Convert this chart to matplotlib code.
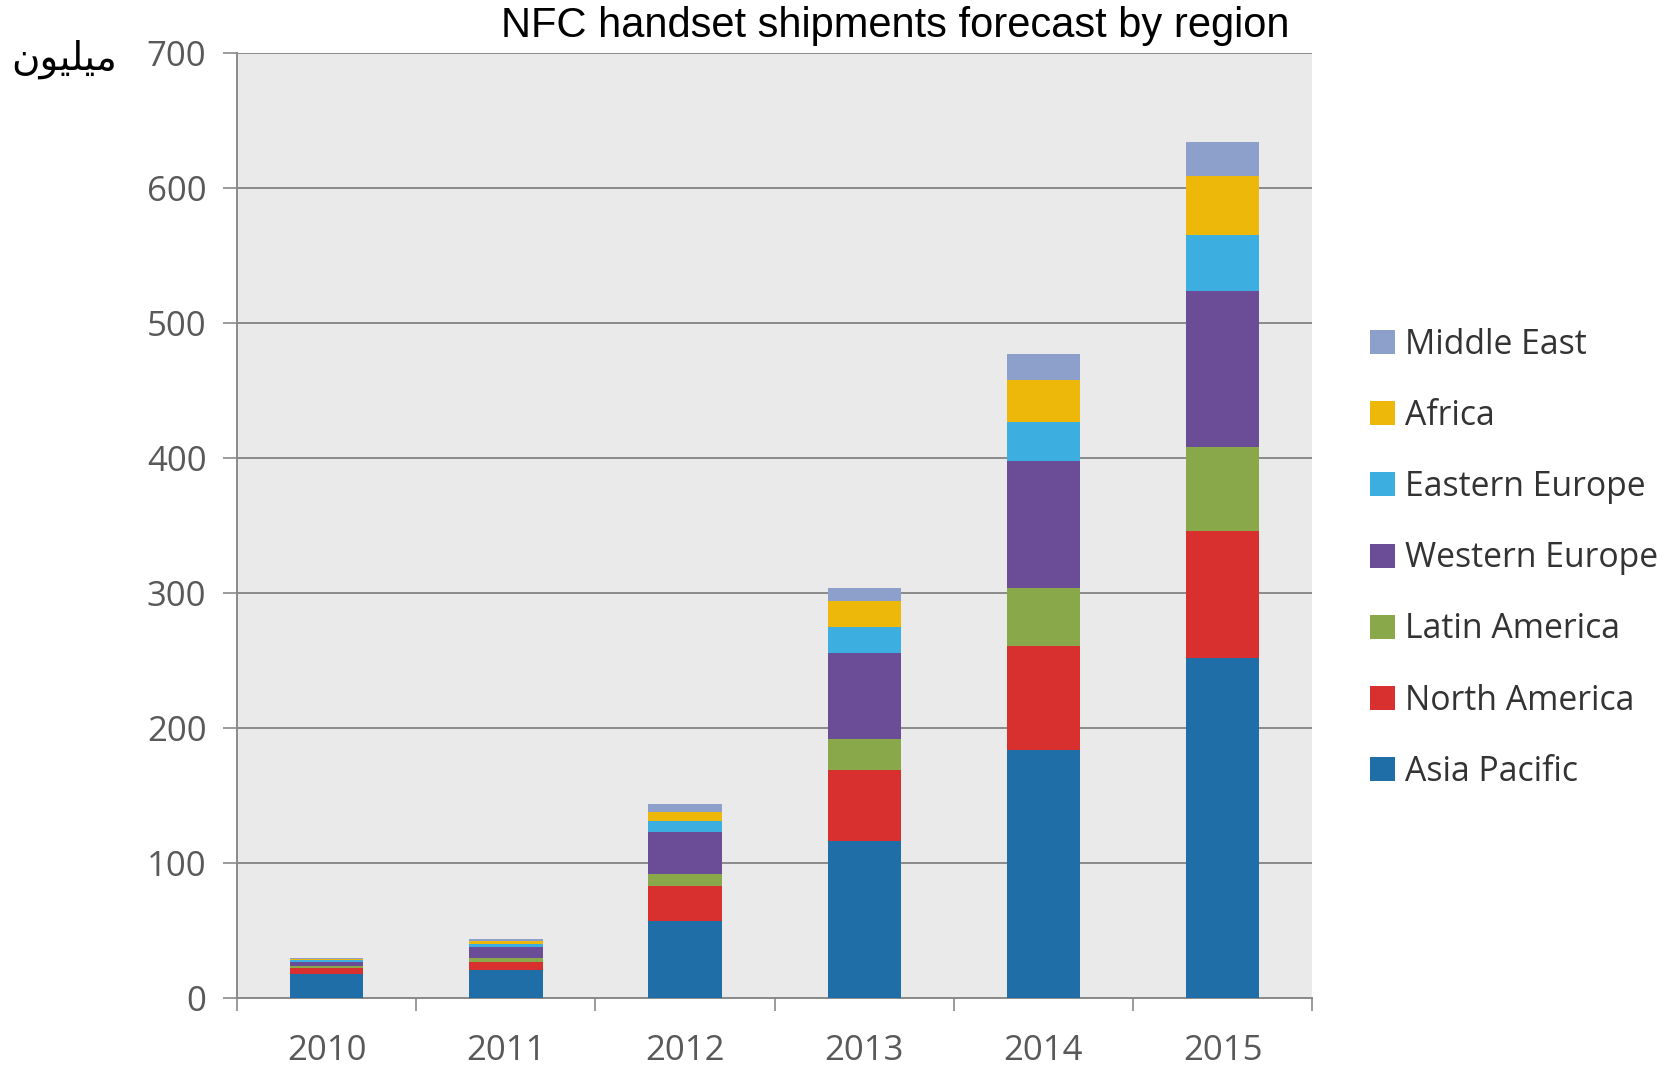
import numpy as np
import matplotlib
matplotlib.use("Agg")
import matplotlib.pyplot as plt
from matplotlib.ticker import FixedLocator

years = ["2010", "2011", "2012", "2013", "2014", "2015"]

# shipments in millions, bottom of the stack first
asia_pacific = [18, 21, 57, 116, 184, 252]
north_america = [4, 6, 26, 53, 77, 94]
latin_america = [2, 3, 9, 23, 43, 62]
western_europe = [3, 8, 31, 64, 94, 116]
eastern_europe = [1, 2, 8, 19, 29, 41]
africa = [1, 2, 7, 19, 31, 44]
middle_east = [1, 2, 6, 10, 19, 25]

regions = ["Asia Pacific", "North America", "Latin America", "Western Europe",
           "Eastern Europe", "Africa", "Middle East"]
series = [asia_pacific, north_america, latin_america, western_europe,
          eastern_europe, africa, middle_east]
colors = ["#1F6EA8", "#D8302E", "#88A84A", "#6B4C97", "#3DAEE0", "#EDB80A", "#8D9FCB"]

y_ticks = [0, 100, 200, 300, 400, 500, 600, 700]

# "million" in Arabic, pre-shaped into presentation forms (visual order)
unit_label = "\uFEE5\uFEEE\uFEF4\uFEE0\uFEF4\uFEE3"

fig = plt.figure(figsize=(16.76, 10.66), dpi=100)
ax = fig.add_axes([0.1414, 0.0638, 0.6416, 0.8862])
ax.set_facecolor("#EAEAEA")

x = np.arange(len(years))
bottom = np.zeros(len(years))
handles = []
for name, vals, c in zip(regions, series, colors):
    b = ax.bar(x, vals, width=0.41, bottom=bottom, color=c, label=name,
               edgecolor="none", zorder=3)
    handles.append(b)
    bottom += np.array(vals)

ax.set_xlim(-0.5, 5.5)
ax.set_ylim(0, 700)
ax.set_yticks(y_ticks)
ax.yaxis.grid(True, color="#8A8A8A", linewidth=1.4, zorder=1)
ax.set_axisbelow(True)

ax.set_xticks(x)
ax.set_xticklabels(years)
ax.xaxis.set_minor_locator(FixedLocator(np.arange(-0.5, 5.6, 1.0)))
ax.tick_params(axis="x", which="major", length=0, pad=26)
ax.tick_params(axis="x", which="minor", length=9, width=1.2, color="#8A8A8A")
ax.tick_params(axis="y", length=10, width=1.2, color="#8A8A8A", pad=12)
for lbl in ax.get_xticklabels() + ax.get_yticklabels():
    lbl.set_fontfamily("Open Sans")
    lbl.set_fontsize(25)
    lbl.set_color("#595959")

for s in ["top", "right"]:
    ax.spines[s].set_visible(False)
for s in ["left", "bottom"]:
    ax.spines[s].set_color("#8A8A8A")
    ax.spines[s].set_linewidth(1.4)

fig.text(0.534, 0.976, "NFC handset shipments forecast by region",
         ha="center", va="center", fontsize=30, family="Liberation Sans",
         color="#000000")
fig.text(0.007, 0.944, unit_label, ha="left", va="center", fontsize=28,
         family=["DejaVu Sans"], color="#000000")

leg = fig.legend(handles[::-1], regions[::-1], loc="upper left",
                 bbox_to_anchor=(0.8095, 0.705), frameon=False,
                 prop={"family": "Open Sans", "size": 24.3},
                 handlelength=0.72, handleheight=0.72, handletextpad=0.3,
                 labelspacing=1.1, borderaxespad=0)
for t in leg.get_texts():
    t.set_color("#333333")

fig.savefig("out.png", dpi=100, facecolor="white")
